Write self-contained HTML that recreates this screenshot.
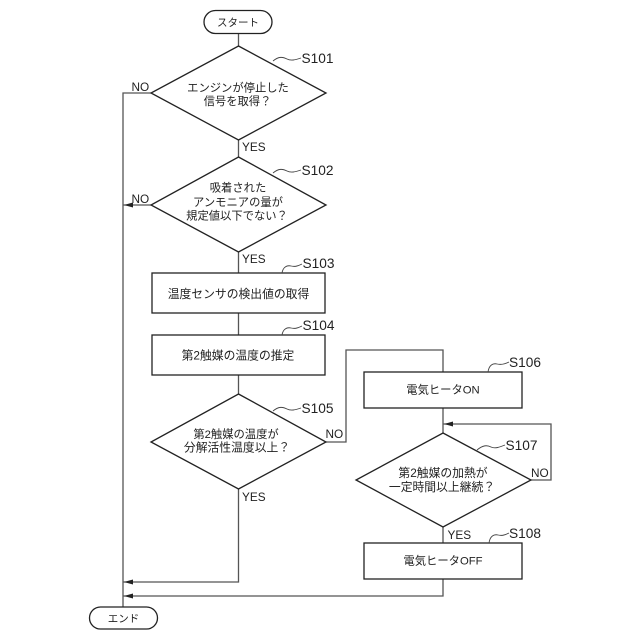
<!DOCTYPE html>
<html>
<head>
<meta charset="utf-8">
<style>
html,body{margin:0;padding:0;background:#fff}
svg{display:block}
text{font-family:"Liberation Sans","Noto Sans CJK JP",sans-serif;fill:#222}
.t{font-size:11.300px;text-anchor:middle}
.m{font-size:11.800px;text-anchor:middle}
.n{font-size:10.500px;text-anchor:middle}
.l{font-size:11.800px}
.s{font-size:13.700px}
.k{fill:none;stroke:#222;stroke-width:1.3}
.g{fill:none;stroke:#555;stroke-width:1.3}
.c{fill:none;stroke:#444;stroke-width:.9}
</style>
</head>
<body>
<svg width="640" height="640" viewBox="0 0 640 640" xmlns="http://www.w3.org/2000/svg">
<!-- connectors -->
<path class="g" d="M238.500 33V46M238.500 140V157M238.500 252V273M238.500 313V335M238.500 375V394M238.500 489V582H123M151 93H123V607M151 205H123M326 442H346V350H443V372M443 408V433M531 480H551V424H443M443 527V543M443 579V596H123"/>
<!-- arrowheads -->
<path d="M124 205L133 202.500V207.500Z" fill="#222"/>
<path d="M124 582L133 579.500V584.500Z" fill="#222"/>
<path d="M124 596L133 593.500V598.500Z" fill="#222"/>
<path d="M444 424L453 421.500V426.500Z" fill="#222"/>
<!-- nodes -->
<rect class="k" x="204" y="10.500" width="68" height="23" rx="11.500"/>
<polygon class="k" points="238.500,46 326,93 238.500,140 151,93"/>
<polygon class="k" points="238.500,157 326,205 238.500,252 151,205"/>
<rect class="k" x="152" y="273" width="173" height="40"/>
<rect class="k" x="152" y="335" width="173" height="40"/>
<polygon class="k" points="238.500,394 326,442 238.500,489 151,442"/>
<rect class="k" x="364" y="372" width="158" height="36"/>
<polygon class="k" points="443,433 531,480 443,527 356,480"/>
<rect class="k" x="364" y="543" width="158" height="36"/>
<rect class="k" x="89.500" y="607" width="68" height="22" rx="11"/>
<!-- step callouts -->
<path class="c" d="M273 61C279 56 283 57 287 59C291 61 295 60 301 58"/>
<path class="c" d="M273 173C279 168 283 169 287 171C291 173 295 172 301 170"/>
<path class="c" d="M282 273C283 267 287 265 291 266C295 267 298 266 302 264"/>
<path class="c" d="M282 335C283 329 287 327 291 328C295 329 298 328 302 326"/>
<path class="c" d="M273 411C279 406 283 407 287 409C291 411 295 410 301 408"/>
<path class="c" d="M488 372C489 365 493 363 497 364C501 365 505 364 509 362"/>
<path class="c" d="M477 450C483 445 487 445 491 447C495 449 500 447 505 445"/>
<path class="c" d="M489 543C490 536 494 534 498 535C502 536 505 535 509 533"/>
<!-- node text -->
<text class="n" x="238" y="26">スタート</text>
<text class="t" x="238" y="91.500">エンジンが停止した</text>
<text class="t" x="237.500" y="105">信号を取得？</text>
<text class="t" x="238" y="191.500">吸着された</text>
<text class="t" x="238" y="206">アンモニアの量が</text>
<text class="t" x="237" y="219.500">規定値以下でない？</text>
<text class="m" x="238.500" y="298">温度センサの検出値の取得</text>
<text class="m" x="238" y="359.500">第2触媒の温度の推定</text>
<text class="t" x="236" y="438">第2触媒の温度が</text>
<text class="m" x="237" y="451.500">分解活性温度以上？</text>
<text class="t" x="443" y="393.500">電気ヒータON</text>
<text class="m" x="443" y="477">第2触媒の加熱が</text>
<text class="m" x="442" y="491">一定時間以上継続？</text>
<text class="t" x="443" y="564.500">電気ヒータOFF</text>
<text class="n" x="123.500" y="622">エンド</text>
<!-- branch labels -->
<text class="l" x="131.500" y="91">NO</text>
<text class="l" x="131.500" y="203">NO</text>
<text class="l" x="325.500" y="438">NO</text>
<text class="l" x="531" y="477">NO</text>
<text class="l" x="242" y="151">YES</text>
<text class="l" x="242" y="263">YES</text>
<text class="l" x="242" y="501">YES</text>
<text class="l" x="447.500" y="539">YES</text>
<!-- step labels -->
<text class="s" x="301.500" y="63">S101</text>
<text class="s" x="301.500" y="175">S102</text>
<text class="s" x="302.500" y="268">S103</text>
<text class="s" x="302.500" y="330">S104</text>
<text class="s" x="301.500" y="413">S105</text>
<text class="s" x="509" y="367">S106</text>
<text class="s" x="505.500" y="450">S107</text>
<text class="s" x="509" y="538">S108</text>
</svg>
</body>
</html>
